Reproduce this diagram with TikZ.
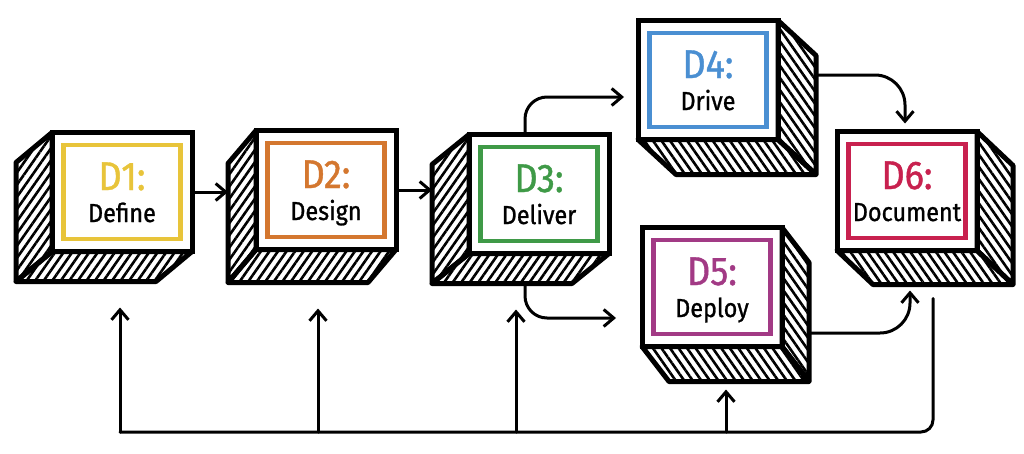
\documentclass[tikz,border=0pt]{standalone}
\usepackage{fontspec}
\setmainfont{Fira Sans}[FakeStretch=0.9,FakeBold=1]
\usepackage{xcolor}
\usetikzlibrary{arrows.meta}
\usetikzlibrary{calc}
\usetikzlibrary{patterns.meta}
\tikzset{>={Straight Barb[length=10pt,width=17pt]}}
\definecolor{myyellow}{HTML}{E8C43A}
\definecolor{myorange}{HTML}{D4772F}
\definecolor{mygreen}{HTML}{3F9A47}
\definecolor{myblue}{HTML}{4A8FD2}
\definecolor{mypurple}{HTML}{A23A85}
\definecolor{mycrimson}{HTML}{C8214F}
\tikzset{
  front/.style={draw,line width=5pt,fill=white,minimum width=140pt,
    minimum height=119pt,inner sep=0pt,outer sep=0pt},
  back/.style={minimum width=140pt,minimum height=119pt,inner sep=0pt,outer sep=0pt},
  inner/.style={line width=4.5pt,minimum width=117pt,minimum height=94pt,
    inner sep=0pt,outer sep=0pt},
  side/.style={line width=5pt,line join=round},
  hatch/.style={pattern={Lines[angle=#1,distance=7pt,line width=2.6pt]}},
  code/.style={anchor=base,inner sep=0pt,font=\fontsize{40}{40}\selectfont},
  title/.style={anchor=base,inner sep=0pt,font=\fontsize{26}{26}\selectfont},
  arr/.style={->,line width=3pt,line cap=round,line join=round},
  link/.style={line width=3pt,line cap=round},
}

\begin{document}
\begin{tikzpicture}[x=1pt,y=-1pt]
  \useasboundingbox (0,0) rectangle (1024,453);

  % LEFT ROW
  \foreach \n/\x/\y/\dx/\dy/\col/\code/\name in {
      d1/122/192/-36/30/myyellow/D1:/Define,
      d2/326/190/-28/33/myorange/D2:/Design,
      d3/539/194/-37/30/mygreen/D3:/Deliver}{
    \node[front] (\n) at (\x,\y) {};
    \node[back] (\n b) at (\x+\dx,\y+\dy) {};
    \draw[side,hatch=55] (\n.north west) -- (\n b.north west)
      -- (\n b.south west) -- (\n.south west) -- cycle;
    \draw[side,hatch=55] (\n.south west) -- (\n b.south west)
      -- (\n b.south east) -- (\n.south east) -- cycle;
    \node[inner,draw=\col] (\n f) at (\n) {};
    \node[code,text=\col] (\n c) at ($(\n)+(0,-2)$) {\code};
    \node[title] (\n t) at ($(\n)+(0,30)$) {\name};
  }

  % RIGHT COLUMNS
  \foreach \n/\x/\y/\dx/\dy/\col/\code/\name in {
      d4/708/80/38/35/myblue/D4:/Drive,
      d5/712/287/27/35/mypurple/D5:/Deploy,
      d6/907/191/36/34/mycrimson/D6:/Document}{
    \node[front] (\n) at (\x,\y) {};
    \node[back] (\n b) at (\x+\dx,\y+\dy) {};
    \draw[side,hatch=125] (\n.north east) -- (\n b.north east)
      -- (\n b.south east) -- (\n.south east) -- cycle;
    \draw[side,hatch=125] (\n.south west) -- (\n b.south west)
      -- (\n b.south east) -- (\n.south east) -- cycle;
    \node[inner,draw=\col] (\n f) at (\n) {};
    \node[code,text=\col] (\n c) at ($(\n)+(0,-2)$) {\code};
    \node[title] (\n t) at ($(\n)+(0,30)$) {\name};
  }

  % ARROWS
  \draw[arr] (d1.east) -- (d1.east -| d2b.west);
  \draw[arr] (d2.east) -- (d2.east -| d3b.west);
  \draw[arr,rounded corners=22pt] ($(d3.north)+(-14,0)$) |- ($(d4.west)+(-14,17)$);
  \draw[arr,rounded corners=22pt] ($(d3b.south)+(23,0)$) |- ($(d5.west)+(-26,31)$);
  \draw[arr,rounded corners=30pt] ($(d4b.east)+(0,-40)$) -| ($(d6.north)+(-2,-8)$);
  \draw[arr,rounded corners=30pt] ($(d5b.east)+(0,11)$) -| ($(d6b.south)+(-33,6)$);

  % FEEDBACK
  \coordinate (base) at (120,432);
  \draw[link,rounded corners=12pt] ($(d6b.south)+(-10,14)$) |- (base);
  \foreach \n/\ox/\oy in {d1b/34/26, d2b/20/26, d3b/14/26, d5b/-13/8}{
    \path ($(\n.south)+(\ox,\oy)$) coordinate (tip);
    \draw[arr] (tip |- base) -- (tip);
  }
\end{tikzpicture}
\end{document}
